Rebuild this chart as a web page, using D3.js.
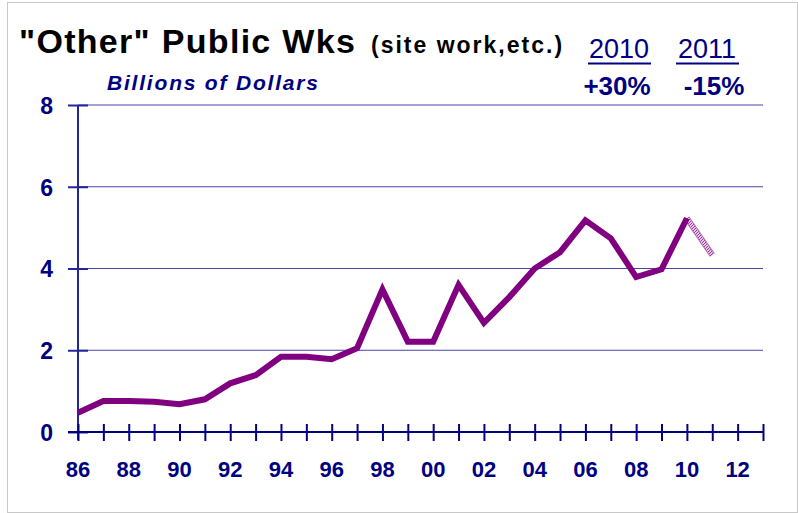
<!DOCTYPE html>
<html>
<head>
<meta charset="utf-8">
<script src="https://cdn.jsdelivr.net/npm/d3@7"></script>
<style>
  body { margin: 0; background: #fff; }
  svg { display: block; font-family: Arial, "Liberation Sans", sans-serif; }
</style>
</head>
<body>
<div id="chart"></div>
<script>
// "Other" public works, billions of dollars
let years = [1986, 1987, 1988, 1989, 1990, 1991, 1992, 1993, 1994, 1995, 1996, 1997, 1998, 1999,
             2000, 2001, 2002, 2003, 2004, 2005, 2006, 2007, 2008, 2009, 2010, 2011];
let values = [0.47, 0.76, 0.76, 0.74, 0.68, 0.80, 1.19, 1.39, 1.84, 1.84, 1.78, 2.05, 3.49, 2.21,
              2.21, 3.60, 2.67, 3.30, 4.00, 4.40, 5.18, 4.74, 3.79, 3.98, 5.23, 4.33];
let yTicks = [0, 2, 4, 6, 8];
let xLabelYears = [1986, 1988, 1990, 1992, 1994, 1996, 1998, 2000, 2002, 2004, 2006, 2008, 2010, 2012];
let forecastFrom = 2010;
let changeYears = ['2010', '2011'];
let changePct = ['+30%', '-15%'];

let svgAttr = {width: 798, height: 513};
let marge = {top: 105, bottom: 81, left: 78, right: 35};
let navy = '#000080';

let svg = d3.select('#chart').append('svg').attr('width', svgAttr.width).attr('height', svgAttr.height);

// outer frame
svg.append('rect').attr('x', 7.5).attr('y', 2.5).attr('width', 790).attr('height', 510)
    .attr('fill', 'none').attr('stroke', '#c8c8c8').attr('stroke-width', 1);

let w = svgAttr.width - marge.left - marge.right;
let h = svgAttr.height - marge.top - marge.bottom;
let g = svg.append('g').attr('transform', 'translate(' + marge.left + ',' + marge.top + ')');

let xScale = d3.scaleLinear().domain([1986, 2013]).range([0, w]);
let yScale = d3.scaleLinear().domain([0, 8]).range([h, 0]);

// gridlines
g.append('g').selectAll('line').data(yTicks.filter(d => d > 0)).enter().append('line')
    .attr('x1', 0).attr('x2', w)
    .attr('y1', d => yScale(d)).attr('y2', d => yScale(d))
    .attr('stroke', '#4646a8').attr('stroke-width', 1.2);

// y axis
let yAxis = d3.axisLeft(yScale).tickValues(yTicks).tickSize(10).tickSizeOuter(0).tickFormat(d3.format('d'));
let yG = g.append('g').call(yAxis);
yG.selectAll('.tick line').attr('x2', 10).attr('x1', -10);
yG.select('.domain').attr('d', 'M0,' + yScale(8) + 'V' + (h + 8));
yG.selectAll('line, path').attr('stroke', '#25259a').attr('stroke-width', 2);
yG.selectAll('text').attr('x', -25).attr('dy', '0.36em').attr('fill', navy)
    .attr('font-size', 23).attr('font-weight', 'bold');

// x axis
let allYears = d3.range(1986, 2014);
let xAxis = d3.axisBottom(xScale).tickValues(allYears).tickSize(0).tickFormat('');
let xG = g.append('g').attr('transform', 'translate(0,' + h + ')').call(xAxis);
xG.select('.domain').attr('d', 'M-10,0H' + w);
xG.selectAll('.tick line').attr('y1', -8).attr('y2', 9);
xG.selectAll('line, path').attr('stroke', navy).attr('stroke-width', 2);
g.append('g').selectAll('text').data(xLabelYears).enter().append('text')
    .attr('x', d => xScale(d)).attr('y', h + 45)
    .attr('text-anchor', 'middle').attr('fill', navy)
    .attr('font-size', 22).attr('font-weight', 'bold')
    .text(d => String(d % 100).padStart(2, '0'));

// data line
let pts = years.map((y, i) => ({y: y, v: values[i]}));
let line = d3.line().x(d => xScale(d.y)).y(d => yScale(d.v));
let actual = pts.filter(d => d.y <= forecastFrom);
let forecast = pts.filter(d => d.y >= forecastFrom);

let defs = svg.append('defs');
let pat = defs.append('pattern').attr('id', 'hatch').attr('patternUnits', 'userSpaceOnUse')
    .attr('width', 3).attr('height', 3);
pat.append('rect').attr('width', 3).attr('height', 3).attr('fill', '#e6c8e6');
pat.append('path').attr('d', 'M0,3L3,0').attr('stroke', '#9a3a9a').attr('stroke-width', 1);

g.append('path').datum(forecast).attr('d', line).attr('fill', 'none')
    .attr('stroke', '#b070b0').attr('stroke-width', 6);
g.append('path').datum(forecast).attr('d', line).attr('fill', 'none')
    .attr('stroke', 'url(#hatch)').attr('stroke-width', 4);
g.append('path').datum(actual).attr('d', line).attr('fill', 'none')
    .attr('stroke', '#800080').attr('stroke-width', 6).attr('stroke-linejoin', 'miter');

// titles
svg.append('text').attr('x', 19).attr('y', 53).attr('font-weight', 'bold').attr('fill', '#000')
    .attr('font-size', 34).attr('letter-spacing', 1.3).text('"Other" Public Wks');
svg.append('text').attr('x', 371).attr('y', 53).attr('font-weight', 'bold').attr('fill', '#000')
    .attr('font-size', 23).attr('letter-spacing', 2).text('(site work,etc.)');

svg.append('text').attr('x', 107).attr('y', 90).attr('fill', navy)
    .attr('font-size', 21).attr('font-weight', 'bold').attr('font-style', 'italic')
    .attr('letter-spacing', 1.8)
    .text('Billions of Dollars');

let cx = [619, 707];
let pctX = [617, 714];
changeYears.forEach(function (yr, i) {
    svg.append('text').attr('x', cx[i]).attr('y', 58).attr('text-anchor', 'middle')
        .attr('fill', navy).attr('font-size', 27).text(yr);
    svg.append('line').attr('x1', cx[i] - 31).attr('x2', cx[i] + 32)
        .attr('y1', 63.5).attr('y2', 63.5).attr('stroke', navy).attr('stroke-width', 2);
    svg.append('text').attr('x', pctX[i]).attr('y', 95).attr('text-anchor', 'middle')
        .attr('fill', navy).attr('font-size', 26).attr('font-weight', 'bold').text(changePct[i]);
});
</script>
</body>
</html>
